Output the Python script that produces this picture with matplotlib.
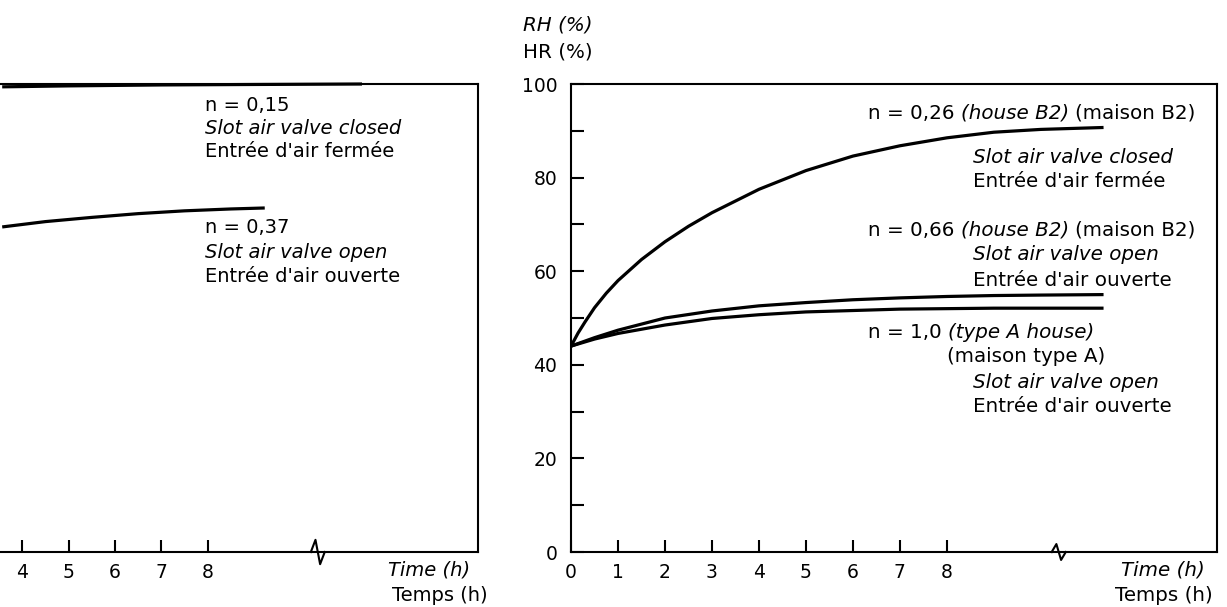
import matplotlib
matplotlib.use("Agg")
import matplotlib.pyplot as plt

# ---- data ----
# left panel (cut off on the left side of the page)
t_015 = [3.6, 5, 7, 9, 11.3]
rh_015 = [99.4, 99.6, 99.8, 99.9, 100.0]
t_037 = [3.6, 4.5, 5.5, 6.5, 7.5, 8.5, 9.2]
rh_037 = [69.5, 70.6, 71.5, 72.3, 72.9, 73.3, 73.5]
left_ticks = [4, 5, 6, 7, 8]

# right panel
t_026 = [0, 0.15, 0.3, 0.5, 0.75, 1, 1.5, 2, 2.5, 3, 4, 5, 6, 7, 8, 9, 10, 11.3]
rh_026 = [44, 46.8, 49.2, 52.2, 55.3, 58, 62.5, 66.3, 69.6, 72.5, 77.5, 81.5, 84.6, 86.8, 88.5, 89.7, 90.3, 90.7]
t_lo = [0, 0.5, 1, 2, 3, 4, 5, 6, 7, 8, 9, 10, 11.3]
rh_066 = [44, 45.8, 47.4, 50, 51.5, 52.6, 53.3, 53.9, 54.3, 54.6, 54.8, 54.9, 55.0]
rh_100 = [44, 45.5, 46.7, 48.5, 49.9, 50.7, 51.3, 51.6, 51.9, 52.0, 52.1, 52.1, 52.1]
right_ticks = [0, 1, 2, 3, 4, 5, 6, 7, 8]
y_major = [0, 20, 40, 60, 80, 100]
y_minor = [10, 30, 50, 70, 90]

BREAK_X = 10.35

plt.rcParams['font.family'] = ['DejaVu Sans']
FS_L = 14
FS_R = 14.3
LW = 2.3

fig = plt.figure(figsize=(12.27, 6.07), dpi=100)

axL = fig.add_axes([-0.1328, 0.0906, 0.5224, 0.771])
axR = fig.add_axes([0.4654, 0.0906, 0.5265, 0.771])


def frame(ax, xmax, xticks, brk_h):
    ax.set_xlim(0, xmax)
    ax.set_ylim(0, 100)
    for s in ax.spines.values():
        s.set_linewidth(1.5)
    ax.set_xticks(xticks)
    ax.set_xticklabels([str(t) for t in xticks])
    ax.tick_params(axis='x', direction='in', length=9, width=1.5,
                   labelsize=13.5, pad=8)
    ax.tick_params(axis='y', direction='in', length=9, width=1.5,
                   labelsize=13.5, pad=10)
    # axis break glyph
    ax.plot([BREAK_X - 0.12, BREAK_X - 0.02, BREAK_X + 0.08, BREAK_X + 0.18],
            [0, brk_h, -brk_h, 0], color='black', lw=1.5, clip_on=False)


frame(axL, 13.84, left_ticks, 2.6)
axL.set_yticks([])
frame(axR, 13.75, right_ticks, 1.7)
axR.set_yticks(y_major)
axR.set_yticks(y_minor, minor=True)
axR.tick_params(axis='y', which='minor', direction='in', length=9, width=1.5)

# curves
axL.plot(t_015, rh_015, color='black', lw=LW, clip_on=False)
axL.plot(t_037, rh_037, color='black', lw=LW)
axR.plot(t_026, rh_026, color='black', lw=LW)
axR.plot(t_lo, rh_066, color='black', lw=LW)
axR.plot(t_lo, rh_100, color='black', lw=LW)


def line(ax, x, y, s, fs, italic=False, ha='left'):
    return ax.text(x, y, s, fontsize=fs, ha=ha, va='center',
                   style='italic' if italic else 'normal')


def mixed(ax, x, y, parts, fs):
    # parts: list of (text, italic) placed one after the other
    t = line(ax, x, y, parts[0][0], fs, parts[0][1])
    for s, it in parts[1:]:
        t = ax.annotate(s, xy=(1, 0), xycoords=t, va='bottom', ha='left',
                        fontsize=fs, style='italic' if it else 'normal')
    return t


# left panel labels
line(axL, 7.95, 95.5, 'n = 0,15', FS_L)
line(axL, 7.95, 90.6, 'Slot air valve closed', FS_L, italic=True)
line(axL, 7.95, 85.5, "Entrée d'air fermée", FS_L)
line(axL, 7.95, 69.4, 'n = 0,37', FS_L)
line(axL, 7.95, 64.1, 'Slot air valve open', FS_L, italic=True)
line(axL, 7.95, 58.8, "Entrée d'air ouverte", FS_L)
line(axL, 13.67, -3.85, 'Time (h)', FS_L, italic=True, ha='right')
line(axL, 14.04, -9.2, 'Temps (h)', FS_L, ha='right')

# right panel labels
line(axR, -1.02, 112.6, 'RH (%)', FS_R, italic=True)
line(axR, -1.02, 106.8, 'HR (%)', FS_R)
mixed(axR, 6.32, 93.8, [('n = 0,26 ', False), ('(house B2) ', True), ('(maison B2)', False)], FS_R)
line(axR, 8.55, 84.4, 'Slot air valve closed', FS_R, italic=True)
line(axR, 8.55, 79.1, "Entrée d'air fermée", FS_R)
mixed(axR, 6.32, 68.8, [('n = 0,66 ', False), ('(house B2) ', True), ('(maison B2)', False)], FS_R)
line(axR, 8.55, 63.5, 'Slot air valve open', FS_R, italic=True)
line(axR, 8.55, 58.1, "Entrée d'air ouverte", FS_R)
mixed(axR, 6.32, 47.0, [('n = 1,0 ', False), ('(type A house)', True)], FS_R)
line(axR, 8.0, 41.7, '(maison type A)', FS_R)
line(axR, 8.55, 36.3, 'Slot air valve open', FS_R, italic=True)
line(axR, 8.55, 31.0, "Entrée d'air ouverte", FS_R)
line(axR, 13.49, -3.85, 'Time (h)', FS_R, italic=True, ha='right')
line(axR, 13.66, -9.2, 'Temps (h)', FS_R, ha='right')

fig.savefig('out.png', dpi=100)
